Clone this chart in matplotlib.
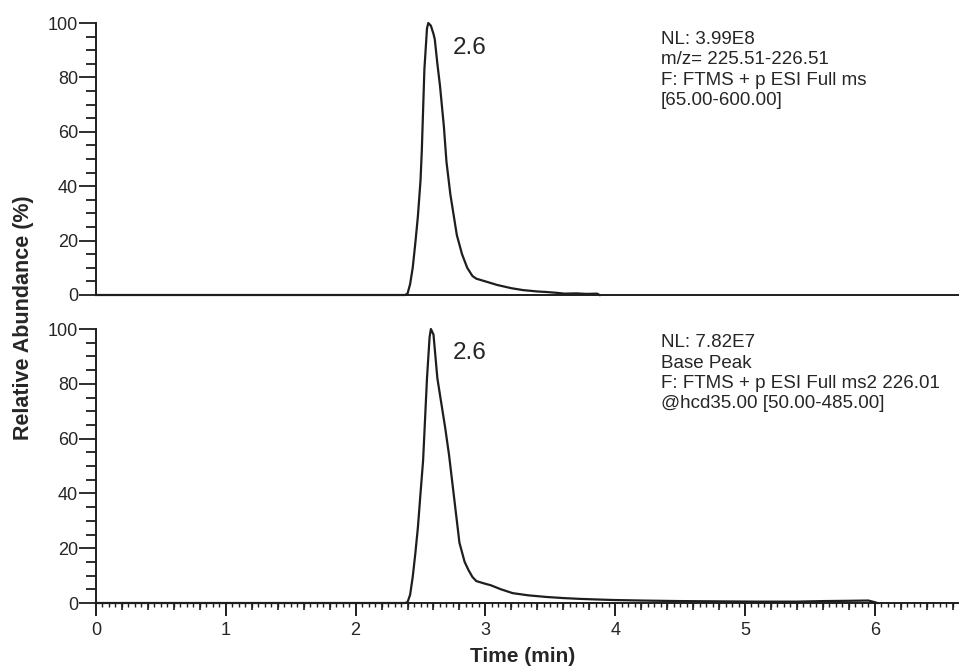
import matplotlib
matplotlib.use("Agg")
import matplotlib.pyplot as plt
from matplotlib.ticker import MultipleLocator, NullFormatter
import numpy as np

plt.rcParams['font.family'] = ['Liberation Sans', 'DejaVu Sans']

# ---- data ----
top_time = [0.0, 2.38, 2.40, 2.42, 2.44, 2.46, 2.48, 2.50, 2.51, 2.53, 2.55, 2.56,
            2.58, 2.60, 2.61, 2.63, 2.65, 2.68, 2.70, 2.73, 2.76, 2.78, 2.82, 2.86,
            2.90, 2.93, 3.00, 3.09, 3.20, 3.29, 3.40, 3.47, 3.55, 3.61, 3.70, 3.78,
            3.86, 3.88]
top_abund = [0, 0, 0.5, 4, 10, 19, 29, 42, 53, 83, 98, 100,
             99, 96, 94, 85, 77, 62, 49, 37, 28, 22, 15, 10,
             7, 6, 5, 3.7, 2.5, 1.8, 1.3, 1.1, 0.8, 0.5, 0.6, 0.4,
             0.5, 0.0]

bot_time = [0.0, 2.38, 2.40, 2.42, 2.44, 2.46, 2.48, 2.50, 2.52, 2.54, 2.55, 2.57,
            2.58, 2.60, 2.63, 2.66, 2.69, 2.72, 2.74, 2.77, 2.80, 2.84, 2.87, 2.90,
            2.93, 3.00, 3.04, 3.12, 3.21, 3.33, 3.47, 3.60, 3.73, 3.85, 3.98, 4.2,
            4.5, 4.8, 5.1, 5.4, 5.6, 5.8, 5.95, 6.0, 6.02]
bot_abund = [0, 0, 0.3, 3, 9.5, 18, 27.6, 40, 52, 72, 82, 97,
             100, 98, 82, 73, 64, 54, 46, 34, 22, 15, 12, 9.5,
             8, 7, 6.5, 5, 3.6, 2.8, 2.2, 1.8, 1.5, 1.3, 1.1, 0.9,
             0.7, 0.6, 0.5, 0.5, 0.7, 0.8, 0.9, 0.3, 0]

peak_label = "2.6"
top_info = "NL: 3.99E8\nm/z= 225.51-226.51\nF: FTMS + p ESI Full ms\n[65.00-600.00]"
bot_info = "NL: 7.82E7\nBase Peak\nF: FTMS + p ESI Full ms2 226.01\n@hcd35.00 [50.00-485.00]"
x_ticks = [0, 1, 2, 3, 4, 5, 6]
y_ticks = [0, 20, 40, 60, 80, 100]

W, H = 959, 668
fig = plt.figure(figsize=(W / 100, H / 100), dpi=100)

left = 96 / W
width = 1 - left
ax1 = fig.add_axes([left, 1 - 295 / H, width, (295 - 23) / H])
ax2 = fig.add_axes([left, 1 - 603 / H, width, (603 - 329) / H])

xmax = (W - 96) / 129.8
lc = '#1e1e1e'
tc = '#262626'

panels = [(ax1, top_time, top_abund, top_info, 90.8, 97.0),
          (ax2, bot_time, bot_abund, bot_info, 91.3, 98.0)]
for ax, t, a, info, ly, iy in panels:
    ax.plot(t, a, color=lc, lw=1.6, clip_on=False, zorder=3)
    ax.set_xlim(0, xmax)
    ax.set_ylim(0, 100)
    for s in ['top', 'right']:
        ax.spines[s].set_visible(False)
    for s in ['left', 'bottom']:
        ax.spines[s].set_linewidth(1.4)
        ax.spines[s].set_color(lc)
    ax.set_yticks(y_ticks)
    ax.yaxis.set_minor_locator(MultipleLocator(5))
    ax.tick_params(axis='y', which='major', direction='out', length=12, width=1.3,
                   labelsize=13, color=lc, labelcolor=tc, pad=1)
    ax.tick_params(axis='y', which='minor', direction='out', length=7, width=1.3, color=lc)
    ax.text(2.88, ly, peak_label, fontsize=17.5, ha='center', va='center', color=tc)
    ax.text(4.35, iy, info, fontsize=13.5, ha='left', va='top', linespacing=1.25, color=tc)
    ax.patch.set_visible(False)

# top panel: no x ticks
ax1.tick_params(axis='x', which='both', bottom=False, labelbottom=False)

# bottom panel x ticks
ax2.set_xticks(x_ticks)
ax2.xaxis.set_minor_locator(MultipleLocator(0.05))
ax2.tick_params(axis='x', which='major', direction='out', length=9, width=1.4,
                labelsize=13, color=lc, labelcolor=tc, pad=5)
ax2.tick_params(axis='x', which='minor', direction='out', length=3, width=1.0, color=lc)
sec = ax2.secondary_xaxis('bottom')
mid = [round(v, 2) for v in np.arange(0.2, xmax, 0.2) if abs(v - round(v)) > 1e-6]
sec.set_xticks(mid)
sec.xaxis.set_major_formatter(NullFormatter())
sec.tick_params(axis='x', direction='out', length=5, width=1.2, color=lc)
sec.spines['bottom'].set_visible(False)

fig.text(24 / W, 1 - 318 / H, "Relative Abundance (%)", rotation=90, fontsize=15.5,
         fontweight='bold', ha='center', va='center', color=tc)
fig.text(523 / W, 1 - 657 / H, "Time (min)", fontsize=15, fontweight='bold',
         ha='center', va='center', color=tc)

fig.savefig("out.png", dpi=100)
